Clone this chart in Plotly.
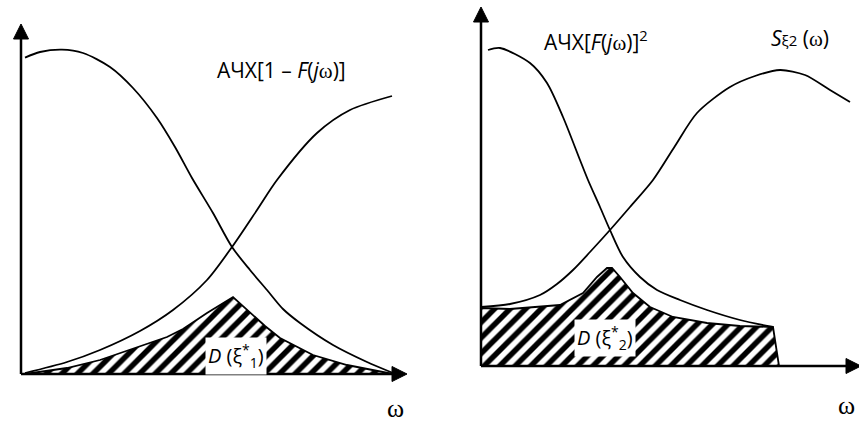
import plotly.graph_objects as go

# ---------------- data (arbitrary schematic units) ----------------
# Left panel
w_left_afc = [0.1, 0.475, 1.025, 1.55, 2.225, 2.8, 3.4, 3.85, 4.275, 4.8, 5.275, 5.725, 6.15, 6.55, 6.975, 7.8, 8.65, 9.3]
a_left_afc = [7.91, 8.05, 8.11, 8.025, 7.675, 7.15, 6.4, 5.675, 4.9, 4.025, 3.175, 2.6, 2.1, 1.625, 1.275, 0.725, 0.3, 0.025]

w_left_s = [0.1, 1.15, 1.975, 2.975, 3.8, 4.65, 5.275, 5.9, 6.4, 7.4, 8.225, 9.275]
a_left_s = [0.025, 0.3, 0.6, 1.075, 1.6, 2.35, 3.175, 4.1, 4.85, 6.025, 6.6, 6.95]

w_left_d = [0.1, 1.15, 1.975, 2.8, 3.65, 4.05, 4.65, 5.3, 5.675, 6.1, 6.475, 7.3, 8.15, 8.975, 9.3]
a_left_d = [0.0, 0.15, 0.35, 0.625, 0.925, 1.125, 1.525, 1.925, 1.575, 1.2, 0.9, 0.475, 0.225, 0.05, 0.0]

# Right panel
w_right_afc = [0.175, 0.475, 1.225, 1.65, 2.05, 2.475, 2.675, 2.975, 3.225, 3.55, 3.975, 4.4, 4.975, 5.65, 6.475, 7.3]
a_right_afc = [7.9, 7.95, 7.575, 7.075, 6.225, 5.15, 4.65, 3.975, 3.4, 2.725, 2.225, 1.9, 1.65, 1.4, 1.15, 0.975]

w_right_s = [0.0, 0.725, 1.475, 1.9, 2.3, 2.725, 3.225, 3.725, 4.3, 4.85, 5.4, 6.225, 6.85, 7.475, 8.1, 8.725, 9.225]
a_right_s = [1.475, 1.55, 1.775, 2.05, 2.4, 2.85, 3.4, 3.975, 4.65, 5.5, 6.325, 6.975, 7.25, 7.4, 7.275, 6.9, 6.6]

w_right_d = [0.0, 0.0, 0.725, 1.475, 1.975, 2.55, 2.9, 3.15, 3.275, 3.475, 3.8, 4.225, 4.8, 5.65, 6.475, 7.3, 7.45]
a_right_d = [0.0, 1.45, 1.425, 1.475, 1.525, 1.825, 2.225, 2.45, 2.45, 2.225, 1.825, 1.475, 1.225, 1.075, 1.0, 0.975, 0.0]

# axis extents (arrow tips), same units
left_axis_x_tip, left_axis_y_tip = 9.65, 8.75
right_axis_x_tip, right_axis_y_tip = 9.5, 8.975

# ---------------- layout geometry ----------------
W, H = 859, 426
UNIT = 40.0                      # px per unit
L_ORIG = (21, 374)               # left origin (px)
R_ORIG = (481, 366)              # right origin (px)
SPLIT = 430
HEAD_LEN = 15 / UNIT             # arrowhead length
HEAD_HALF = 7.5 / UNIT           # arrowhead half width

def xr(orig, p0, p1):
    return [(p0 - orig[0]) / UNIT, (p1 - orig[0]) / UNIT]

def yr(orig):
    return [(orig[1] - H) / UNIT, orig[1] / UNIT]

def P(px, py):
    return px / W, 1 - py / H

fig = go.Figure()
line = dict(color="black", width=1.8)
pattern = dict(shape="/", size=11, solidity=0.5, fgcolor="black", bgcolor="white", fillmode="replace")

# left panel
fig.add_trace(go.Scatter(x=w_left_d, y=a_left_d, mode="lines", fill="toself",
                         fillpattern=pattern, line=line, xaxis="x", yaxis="y"))
fig.add_trace(go.Scatter(x=w_left_afc, y=a_left_afc, mode="lines", line=dict(shape="spline", smoothing=0.8, **line),
                         xaxis="x", yaxis="y"))
fig.add_trace(go.Scatter(x=w_left_s, y=a_left_s, mode="lines", line=dict(shape="spline", smoothing=0.8, **line),
                         xaxis="x", yaxis="y"))
# right panel
fig.add_trace(go.Scatter(x=w_right_d, y=a_right_d, mode="lines", fill="toself",
                         fillpattern=pattern, line=line, xaxis="x2", yaxis="y2"))
fig.add_trace(go.Scatter(x=w_right_afc, y=a_right_afc, mode="lines", line=dict(shape="spline", smoothing=0.8, **line),
                         xaxis="x2", yaxis="y2"))
fig.add_trace(go.Scatter(x=w_right_s, y=a_right_s, mode="lines", line=dict(shape="spline", smoothing=0.8, **line),
                         xaxis="x2", yaxis="y2"))

ax_common = dict(visible=False, showgrid=False, zeroline=False, fixedrange=True)
fig.update_layout(
    width=W, height=H, margin=dict(l=0, r=0, t=0, b=0),
    paper_bgcolor="white", plot_bgcolor="rgba(0,0,0,0)", showlegend=False,
    xaxis=dict(domain=[0, SPLIT / W], range=xr(L_ORIG, 0, SPLIT), anchor="y", **ax_common),
    yaxis=dict(domain=[0, 1], range=yr(L_ORIG), anchor="x", **ax_common),
    xaxis2=dict(domain=[SPLIT / W, 1], range=xr(R_ORIG, SPLIT, W), anchor="y2", **ax_common),
    yaxis2=dict(domain=[0, 1], range=yr(R_ORIG), anchor="x2", **ax_common),
)

# axes with arrowheads (shapes)
shapes = []
for xa, ya, xt, yt in (("x", "y", left_axis_x_tip, left_axis_y_tip),
                       ("x2", "y2", right_axis_x_tip, right_axis_y_tip)):
    ax_line = dict(color="black", width=2.5)
    shapes.append(dict(type="line", xref=xa, yref=ya, x0=0, y0=0, x1=0, y1=yt - HEAD_LEN + 0.02, line=ax_line))
    shapes.append(dict(type="line", xref=xa, yref=ya, x0=0, y0=0, x1=xt - HEAD_LEN + 0.02, y1=0, line=ax_line))
    shapes.append(dict(type="path", xref=xa, yref=ya, fillcolor="black", line=dict(color="black", width=1),
                       path=f"M{-HEAD_HALF},{yt - HEAD_LEN} L{HEAD_HALF},{yt - HEAD_LEN} L0,{yt} Z"))
    shapes.append(dict(type="path", xref=xa, yref=ya, fillcolor="black", line=dict(color="black", width=1),
                       path=f"M{xt - HEAD_LEN},{-HEAD_HALF} L{xt - HEAD_LEN},{HEAD_HALF} L{xt},0 Z"))
fig.update_layout(shapes=shapes)

sans = dict(family="Open Sans, Noto Sans, sans-serif", size=21, color="black")
dfont = dict(family="Open Sans, Noto Sans, sans-serif", size=20, color="black")
serif = dict(family="Liberation Serif, DejaVu Serif, serif", size=26, color="black")
OM = '<span style="font-family:Liberation Serif">ω</span>'

def label(px, py, text, font, **kw):
    x, y = P(px, py)
    return dict(x=x, y=y, xref="paper", yref="paper", text=text, showarrow=False,
                font=font, xanchor="center", yanchor="middle", **kw)

anns = [
    label(281, 70, "АЧХ[1 – <i>F</i>(<i>j</i>" + OM + ")]", sans),
    label(596, 40, "АЧХ[<i>F</i>(<i>j</i>" + OM + ")]<sup>2</sup>", sans),
    label(800, 38, '<i>S</i><span style="font-size:15px">ξ2</span> (' + OM + ")", sans),
    label(236, 356, "<i>D</i> (ξ<sup>*</sup><sub>1</sub>)", dfont, bgcolor="white", borderpad=2),
    label(605, 338, "<i>D</i> (ξ<sup>*</sup><sub>2</sub>)", dfont, bgcolor="white", borderpad=2),
    label(395, 408, "ω", serif),
    label(846, 405, "ω", serif),
]
fig.update_layout(annotations=anns)

fig.write_html("out.html", config={"displayModeBar": False},
               post_script="document.body.style.margin='0';document.body.style.overflow='hidden';")
